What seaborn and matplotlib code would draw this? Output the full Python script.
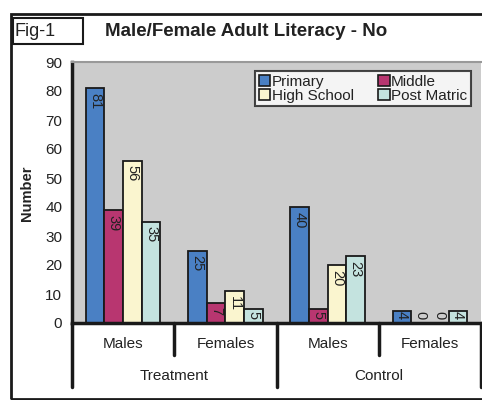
import matplotlib
matplotlib.use("Agg")
import matplotlib.pyplot as plt
import matplotlib.patches as mpatches
from matplotlib.lines import Line2D
import seaborn as sns
import pandas as pd

# Survey groups along the x axis
arms = ["Treatment", "Treatment", "Control", "Control"]
sexes = ["Males", "Females", "Males", "Females"]
levels = ["Primary", "Middle", "High School", "Post Matric"]

# Counts per education level for each group
primary = [81, 25, 40, 4]
middle = [39, 7, 5, 0]
high_school = [56, 11, 20, 0]
post_matric = [35, 5, 23, 4]

colors = ["#4a80c4", "#b83670", "#faf5cf", "#c4e3df"]
y_ticks = [0, 10, 20, 30, 40, 50, 60, 70, 80, 90]

groups = [f"{a} {s}" for a, s in zip(arms, sexes)]
rows = []
for lvl, vals in zip(levels, [primary, middle, high_school, post_matric]):
    for g, v in zip(groups, vals):
        rows.append({"group": g, "level": lvl, "count": v})
df = pd.DataFrame(rows)

sns.set_theme(style="white")
plt.rcParams["font.family"] = ["Liberation Sans", "DejaVu Sans"]

fig = plt.figure(figsize=(4.82, 4.0), dpi=100)
fig.patch.set_facecolor("white")
ax = fig.add_axes([72 / 482, 77 / 400, 409 / 482, 261 / 400])
ax.set_facecolor("#cccccc")

sns.barplot(data=df, x="group", y="count", hue="level", order=groups,
            hue_order=levels, palette=colors, width=0.73, dodge=True,
            edgecolor="#1a1a1a", linewidth=1.3, saturation=1, errorbar=None,
            legend=False, ax=ax)

ax.set_xlim(-0.5, 3.5)
ax.set_ylim(0, 90)
ax.set_yticks(y_ticks)
ax.tick_params(axis="y", direction="out", length=4, width=2, color="black",
               labelsize=11, labelcolor="#222222", pad=3)
ax.tick_params(axis="x", length=0, labelbottom=False)
ax.set_xlabel("")
ax.set_ylabel("")

for side in ["left", "bottom"]:
    ax.spines[side].set_color("#1a1a1a")
    ax.spines[side].set_linewidth(2.5)
ax.spines["top"].set_color("#999999")
ax.spines["top"].set_linewidth(1.5)
ax.spines["right"].set_visible(False)

# Value labels, written downward from the top of each bar
for container in ax.containers:
    for patch, val in zip(container.patches, container.datavalues):
        xc = patch.get_x() + patch.get_width() / 2
        y = max(val - 1.6, 4.0)
        ax.text(xc, y, f"{int(val)}", rotation=-90, ha="center", va="top",
                fontsize=10.5, color="#222222")

# Two-level category axis below the plot
xt = ax.get_xaxis_transform()
for xpos, depth in [(-0.5, -0.245), (0.5, -0.1226), (1.5, -0.245),
                    (2.5, -0.1226), (3.5, -0.245)]:
    ax.add_line(Line2D([xpos, xpos], [0, depth], transform=xt, color="#1a1a1a",
                       linewidth=2.5, clip_on=False))
for i, s in enumerate(sexes):
    ax.text(i, -0.080, s, transform=xt, ha="center", va="center",
            fontsize=11, color="#222222")
for center, a in [(0.5, "Treatment"), (2.5, "Control")]:
    ax.text(center, -0.203, a, transform=xt, ha="center", va="center",
            fontsize=11, color="#222222")

# Legend, filled row by row
handles = [mpatches.Patch(facecolor=c, edgecolor="#1a1a1a", linewidth=1.2, label=l)
           for c, l in zip(colors, levels)]
order = [0, 2, 1, 3]
leg = fig.legend(handles=[handles[i] for i in order], ncol=2, loc="upper left",
                 bbox_to_anchor=(255 / 482, 1 - 71 / 400), frameon=True,
                 fontsize=11, handlelength=0.75, handleheight=0.75,
                 handletextpad=0.1, labelspacing=-0.02, columnspacing=1.6,
                 borderpad=0.25, borderaxespad=0, fancybox=False)
leg.get_frame().set_edgecolor("#1a1a1a")
leg.get_frame().set_linewidth(1.5)
leg.get_frame().set_facecolor("white")
for t in leg.get_texts():
    t.set_color("#222222")

# Outer frame, figure tag and title
fig.add_artist(mpatches.Rectangle((11 / 482, 1 / 400), 480 / 482, 385 / 400,
                                  transform=fig.transFigure, fill=False,
                                  edgecolor="#1a1a1a", linewidth=2))
fig.add_artist(mpatches.Rectangle((13 / 482, 1 - 44 / 400), 70 / 482, 26 / 400,
                                  transform=fig.transFigure, fill=False,
                                  edgecolor="#1a1a1a", linewidth=1.5))
fig.text(15 / 482, 1 - 31 / 400, "Fig-1", ha="left", va="center",
         fontsize=13, color="#222222")
fig.text(105 / 482, 1 - 31 / 400, "Male/Female Adult Literacy - No",
         ha="left", va="center", fontsize=13.5, fontweight="bold", color="#222222")
fig.text(27 / 482, 1 - 193 / 400, "Number", rotation=90, ha="center",
         va="center", fontsize=10.5, fontweight="bold", color="#222222")

fig.savefig("out.png", dpi=100)
